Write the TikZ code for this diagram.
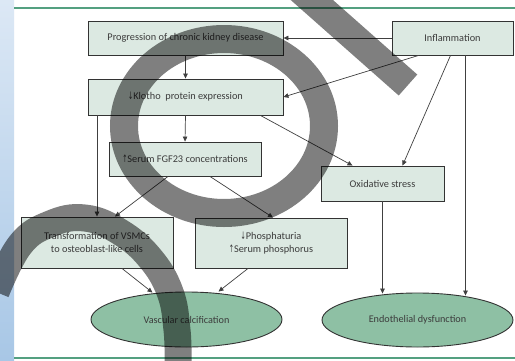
\documentclass[tikz,border=0pt]{standalone}
\usepackage{fontspec}
\setmainfont{Carlito}
\newfontfamily\arrowfont{DejaVu Sans}
\usetikzlibrary{arrows.meta,shapes.geometric}

\definecolor{boxfill}{RGB}{220,233,226}
\definecolor{ovalfill}{RGB}{142,192,164}
\definecolor{rulegreen}{RGB}{84,160,128}
\definecolor{striptop}{RGB}{220,232,245}
\definecolor{stripbot}{RGB}{168,199,230}
\definecolor{txt}{RGB}{60,60,60}

\newcommand{\upar}{\scalebox{.6}[1]{\arrowfont ↑}}
\newcommand{\dnar}{\scalebox{.6}[1]{\arrowfont ↓}}

\begin{document}
\begin{tikzpicture}[x=1pt,y=-1pt,
  box/.style={draw=black!80,line width=0.9pt,fill=boxfill,inner sep=0pt,align=center,text=txt,font=\fontsize{10.3}{13}\selectfont},
  oval/.style={ellipse,draw=black!80,line width=0.9pt,fill=ovalfill,inner sep=0pt,text=txt,font=\fontsize{10.2}{13}\selectfont},
  link/.style={draw=black!75,line width=0.7pt,-{Triangle[length=5pt,width=4.5pt]}}]

% Page
\useasboundingbox (0,0) rectangle (515,360);
\fill[white] (0,0) rectangle (515,360);
\shade[top color=striptop,bottom color=stripbot] (0,0) rectangle (14,360);
\draw[rulegreen,line width=1.2pt] (14,8) -- (515,8);
\draw[rulegreen,line width=1.2pt] (14,358) -- (515,358);

% Boxes
\node[box,minimum width=195pt,minimum height=34pt] (prog) at (185.5,38) {Progression of chronic kidney disease};
\node[box,minimum width=121pt,minimum height=34pt] (infl) at (452.5,38) {Inflammation};
\node[box,minimum width=195pt,minimum height=36pt] (klotho) at (185.5,97) {\dnar Klotho\ \ protein expression};
\node[box,minimum width=152pt,minimum height=34pt] (fgf) at (185,159) {\upar Serum FGF23 concentrations};
\node[box,minimum width=123pt,minimum height=35pt] (oxid) at (382.5,183.5) {Oxidative stress};
\node[box,minimum width=152pt,minimum height=51pt] (vsmc) at (97,242.5) {Transformation of VSMCs\\to osteoblast-like cells};
\node[box,minimum width=152pt,minimum height=50pt] (phos) at (271,243) {\dnar Phosphaturia\\\upar Serum phosphorus};

% Outcomes
\node[oval,minimum width=191pt,minimum height=55pt] (vasc) at (186.5,319.5) {Vascular calcification};
\node[oval,minimum width=191pt,minimum height=54pt] (endo) at (417.5,320) {Endothelial dysfunction};

% Arrows
\draw[link] (infl.west) -- (prog.east);
\draw[link] (prog.south) -- (klotho.north);
\draw[link] ([xshift=-34pt]infl.south) -- (klotho.east);
\draw[link] (klotho.south) -- (fgf.north);
\draw[link] (klotho.south -| vsmc.north) -- (vsmc.north);
\draw[link] ([xshift=75pt]klotho.south) -- ([xshift=-30pt]oxid.north);
\draw[link] ([xshift=-2pt]infl.south) -- ([xshift=20pt]oxid.north);
\draw[link] ([xshift=13pt]infl.south) -- ([xshift=48pt,yshift=-3pt]endo.north);
\draw[link] ([xshift=-17pt]fgf.south) -- ([xshift=18pt]vsmc.north);
\draw[link] ([xshift=25pt]fgf.south) -- ([xshift=2pt]phos.north);
\draw[link] (oxid.south) -- ([yshift=-1pt]oxid.south |- endo.north);
\draw[link] ([xshift=25pt]vsmc.south) -- ([xshift=-34pt,yshift=-1pt]vasc.north);
\draw[link] ([xshift=-23pt]phos.south) -- ([xshift=32pt]vasc.north);

% Watermark
\begin{scope}
\clip (0,0) rectangle (515,360);
\draw[black,opacity=.5,line width=28pt] (224,126) ellipse [x radius=100pt,y radius=87pt] (296,-14) -- (408,85);
\draw[black,opacity=.5,line width=27pt] plot[smooth,tension=.7] coordinates {(-4,292) (20,245) (50,224) (85,218) (120,232) (150,258) (170,292) (177,330) (178,365)};
\end{scope}
\end{tikzpicture}
\end{document}
